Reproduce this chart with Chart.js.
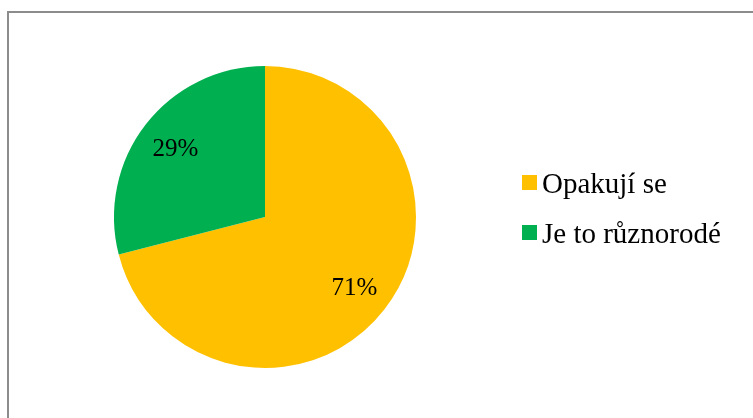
<!DOCTYPE html>
<html>
<head>
<meta charset="utf-8">
<script src="https://cdn.jsdelivr.net/npm/chart.js@4/dist/chart.umd.min.js"></script>
<style>
    html, body { margin: 0; padding: 0; background: #fff; }
    #wrap { position: relative; width: 753px; height: 418px; overflow: hidden; }
    #frame {
        position: absolute; left: 7px; top: 11px; width: 800px; height: 500px;
        border-left: 2px solid #8c8c8c; border-top: 2px solid #8c8c8c;
    }
    #pieChart { position: absolute; left: 0; top: 0; }
</style>
</head>
<body>
<div id="wrap">
    <div id="frame"></div>
    <canvas id="pieChart" width="753" height="418"></canvas>
</div>
<script>
// answers to the question, in percent
const categories = ['Opakují se', 'Je to různorodé'];
const shares = [71, 29];
const sliceColors = ['#FFC000', '#00B050'];

const serif = '"Liberation Serif", "Times New Roman", serif';

// percent text inside each slice
const sliceLabels = {
    id: 'sliceLabels',
    afterDatasetsDraw(chart) {
        const ctx = chart.ctx;
        const meta = chart.getDatasetMeta(0);
        ctx.save();
        ctx.font = '25px ' + serif;
        ctx.fillStyle = '#000';
        ctx.textAlign = 'center';
        ctx.textBaseline = 'middle';
        meta.data.forEach((arc, i) => {
            const p = arc.getProps(['x', 'y', 'startAngle', 'endAngle', 'outerRadius'], true);
            const mid = (p.startAngle + p.endAngle) / 2;
            const r = p.outerRadius * 0.75;
            ctx.fillText(shares[i] + '%', p.x + Math.cos(mid) * r, p.y + Math.sin(mid) * r + 2);
        });
        ctx.restore();
    }
};

// legend on the right, square marker + label
const sideLegend = {
    id: 'sideLegend',
    afterDraw(chart) {
        const ctx = chart.ctx;
        ctx.save();
        ctx.font = '29px ' + serif;
        ctx.textBaseline = 'alphabetic';
        categories.forEach((name, i) => {
            const cy = 182.5 + i * 50;
            ctx.fillStyle = sliceColors[i];
            ctx.fillRect(522, cy - 7.5, 15, 15);
            ctx.fillStyle = '#000';
            ctx.fillText(name, 542, cy + 10);
        });
        ctx.restore();
    }
};

new Chart(document.getElementById('pieChart').getContext('2d'), {
    type: 'pie',
    data: {
        labels: categories,
        datasets: [{
            data: shares,
            backgroundColor: sliceColors,
            borderWidth: 0
        }]
    },
    options: {
        responsive: false,
        animation: false,
        layout: {
            padding: { left: 114, right: 337, top: 66, bottom: 50 }
        },
        plugins: {
            legend: { display: false },
            tooltip: { enabled: false }
        }
    },
    plugins: [sliceLabels, sideLegend]
});
</script>
</body>
</html>
